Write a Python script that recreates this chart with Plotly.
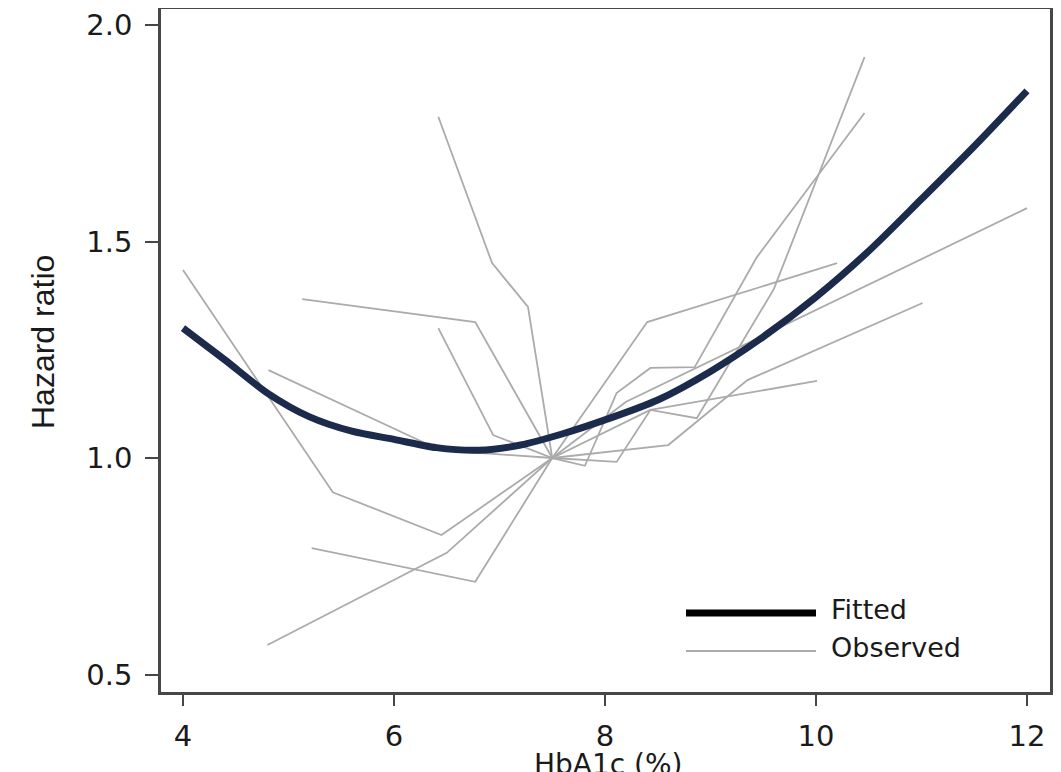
import plotly.graph_objects as go

# ---- data ----
fitted_x = [4.0, 4.4, 4.8, 5.2, 5.6, 6.0, 6.4, 6.8, 7.2, 7.6, 8.0, 8.5, 9.0, 9.5, 10.0, 10.5, 11.0, 11.5, 12.0]
fitted_y = [1.300, 1.226, 1.150, 1.095, 1.062, 1.043, 1.024, 1.018, 1.030, 1.056, 1.088, 1.134, 1.200, 1.280, 1.372, 1.478, 1.598, 1.720, 1.848]

obs1_x = [4.0, 5.42, 6.45, 7.5, 8.2, 12.0]
obs1_y = [1.434, 0.921, 0.822, 1.0, 1.13, 1.577]

obs2_x = [5.13, 6.77, 7.5, 8.40, 10.2]
obs2_y = [1.367, 1.314, 1.0, 1.314, 1.450]

obs3_x = [6.42, 6.94, 7.5, 8.43, 10.01]
obs3_y = [1.300, 1.053, 1.0, 1.111, 1.178]

obs4_x = [4.81, 6.44, 7.5, 8.6, 9.35, 11.01]
obs4_y = [1.203, 1.018, 1.0, 1.03, 1.18, 1.358]

obs5_x = [5.22, 6.77, 7.5, 8.11, 8.43, 8.87, 9.6, 10.46]
obs5_y = [0.792, 0.714, 1.0, 0.991, 1.111, 1.092, 1.39, 1.926]

obs6_x = [4.80, 6.50, 7.5, 7.81, 8.11, 8.43, 8.85, 9.44, 10.46]
obs6_y = [0.568, 0.781, 1.0, 0.982, 1.150, 1.208, 1.210, 1.464, 1.797]

obs7_x = [6.42, 6.93, 7.27, 7.5]
obs7_y = [1.788, 1.450, 1.349, 1.0]

observed = [(obs1_x, obs1_y), (obs2_x, obs2_y), (obs3_x, obs3_y), (obs4_x, obs4_y),
            (obs5_x, obs5_y), (obs6_x, obs6_y), (obs7_x, obs7_y)]

x_ticks = [4, 6, 8, 10, 12]
y_ticks = [0.5, 1.0, 1.5, 2.0]
legend_labels = ["Fitted", "Observed"]

NAVY = "#1c2a4c"
GRAY = "#ababab"
FRAME = "#474747"
TEXT = "#1a1a1a"

fig = go.Figure()
for ox, oy in observed:
    fig.add_trace(go.Scatter(x=ox, y=oy, mode="lines", name="Observed",
                             line=dict(color=GRAY, width=1.8), showlegend=False,
                             hoverinfo="skip"))
fig.add_trace(go.Scatter(x=fitted_x, y=fitted_y, mode="lines", name="Fitted",
                         line=dict(color=NAVY, width=7, shape="spline", smoothing=0.8),
                         showlegend=False))

# The page body has an 8px margin, so the figure is offset by 8px on screen.
OFF = 8
W, H = 1061 - OFF, 772 - OFF
L, R, T, B = 153, 1042, 1, 684          # plot area in figure pixels
pw, ph = R - L, B - T

def px(xs):  # screen x -> paper
    return (xs - OFF - L) / pw

def py(ys):  # screen y -> paper
    return 1 - (ys - OFF - T) / ph

# manual legend (long line samples as in the original)
fig.add_shape(type="line", xref="paper", yref="paper", x0=px(686), x1=px(816),
              y0=py(613), y1=py(613), line=dict(color="#000000", width=7))
fig.add_shape(type="line", xref="paper", yref="paper", x0=px(686), x1=px(816),
              y0=py(651), y1=py(651), line=dict(color=GRAY, width=2))
fig.add_annotation(xref="paper", yref="paper", x=px(829), y=py(609), text=legend_labels[0],
                   showarrow=False, xanchor="left", yanchor="middle",
                   font=dict(family="DejaVu Sans", size=27, color=TEXT))
fig.add_annotation(xref="paper", yref="paper", x=px(829), y=py(647), text=legend_labels[1],
                   showarrow=False, xanchor="left", yanchor="middle",
                   font=dict(family="DejaVu Sans", size=27, color=TEXT))

# axis titles
fig.add_annotation(xref="paper", yref="paper", x=px(43), y=py(342), text="Hazard ratio",
                   textangle=-90, showarrow=False, xanchor="center", yanchor="middle",
                   font=dict(family="Liberation Sans", size=32, color=TEXT))
fig.add_annotation(xref="paper", yref="paper", x=px(608), y=py(746), text="HbA1c (%)",
                   showarrow=False, xanchor="center", yanchor="top",
                   font=dict(family="DejaVu Sans", size=28, color=TEXT))

fig.update_layout(
    width=W, height=H,
    margin=dict(l=L, r=W - R, t=T, b=H - B, autoexpand=False),
    paper_bgcolor="white", plot_bgcolor="white",
    showlegend=False,
)
fig.update_xaxes(range=[3.7915, 12.218], tickvals=x_ticks, ticktext=[str(v) for v in x_ticks],
                 automargin=False,
                 showgrid=False, zeroline=False, showline=True, mirror=True,
                 linecolor=FRAME, linewidth=2.5, ticks="outside", ticklen=11, tickwidth=2,
                 tickcolor=FRAME, ticklabelstandoff=5,
                 tickfont=dict(family="DejaVu Sans", size=29, color=TEXT))
fig.update_yaxes(range=[0.4596, 2.037], tickvals=y_ticks, tickformat=".1f",
                 automargin=False,
                 showgrid=False, zeroline=False, showline=True, mirror=True,
                 linecolor=FRAME, linewidth=2.5, ticks="outside", ticklen=13, tickwidth=2,
                 tickcolor=FRAME, ticklabelstandoff=7,
                 tickfont=dict(family="DejaVu Sans", size=29, color=TEXT))

fig.write_html("out.html")
